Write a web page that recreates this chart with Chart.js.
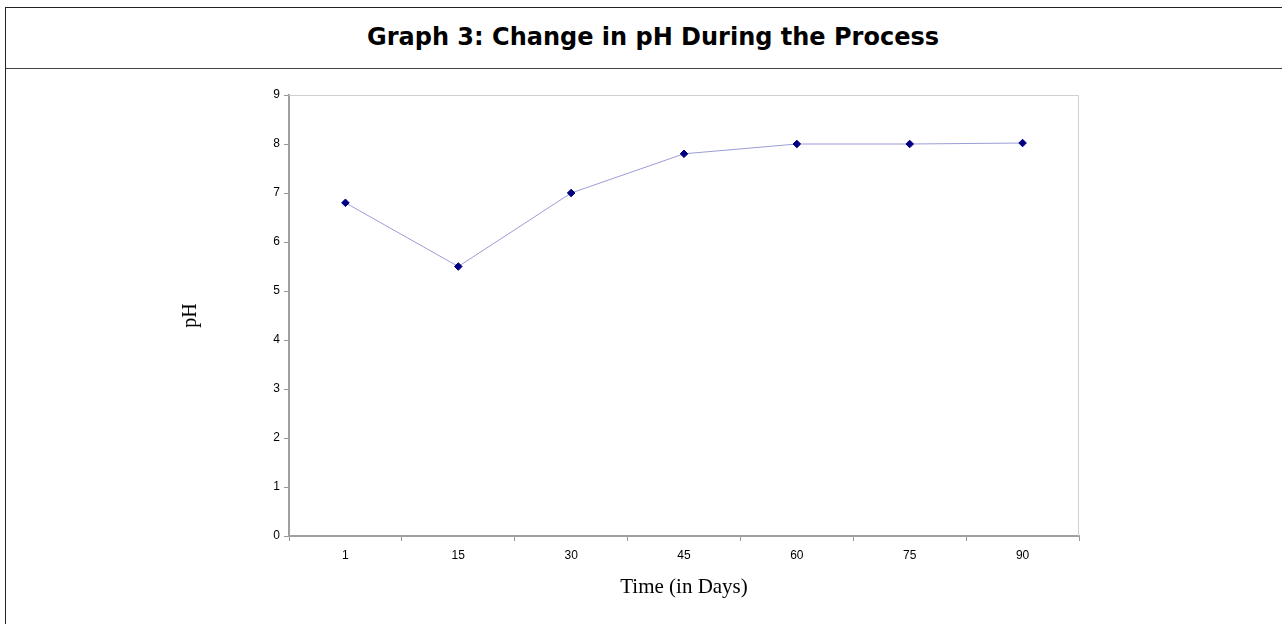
<!DOCTYPE html>
<html>
<head>
<meta charset="utf-8">
<script src="https://cdn.jsdelivr.net/npm/chart.js@4"></script>
<style>
	html, body { margin: 0; padding: 0; background: #fff; }
	#frame { position: absolute; left: 5px; top: 7px; width: 1290px; height: 640px; border: 1px solid #222; }
	#head { height: 60px; border-bottom: 1px solid #444; text-align: center; line-height: 58px; padding-left: 4px;
		font-family: 'DejaVu Sans', Verdana, sans-serif; font-weight: bold; font-size: 24px; color: #000; }
	#wrap { position: absolute; left: 0; top: 0; width: 1282px; height: 624px; }
</style>
</head>
<body>
<div id="frame"><div id="head">Graph 3: Change in pH During the Process</div></div>
<div id="wrap"><canvas id="chart"></canvas></div>
<script>
let days = ['1', '15', '30', '45', '60', '75', '90'];
let phValues = [6.8, 5.5, 7.0, 7.8, 8.0, 8.0, 8.02];
let yTicks = [0, 1, 2, 3, 4, 5, 6, 7, 8, 9];

// light frame on top and right of the plot
let plotBorder = {
	id: 'plotBorder',
	beforeDatasetsDraw: function(chart){
		let a = chart.chartArea;
		let ctx = chart.ctx;
		ctx.save();
		ctx.strokeStyle = '#d0d0d0';
		ctx.lineWidth = 1;
		ctx.beginPath();
		ctx.moveTo(a.left, a.top + 0.5);
		ctx.lineTo(a.right - 0.5, a.top + 0.5);
		ctx.lineTo(a.right - 0.5, a.bottom);
		ctx.stroke();
		ctx.restore();
	}
};

let ctx = document.getElementById('chart');

new Chart(ctx, {
	type: 'line',
	data: {
		labels: days,
		datasets: [{
			label: 'pH',
			data: phValues,
			borderColor: '#9c9cd8',
			borderWidth: 1,
			pointStyle: 'rectRot',
			pointRadius: 3.8,
			pointBackgroundColor: '#000080',
			pointBorderColor: '#000080',
			pointBorderWidth: 1,
			tension: 0
		}]
	},
	options: {
		responsive: true,
		maintainAspectRatio: false,
		animation: false,
		layout: { padding: { left: 0, right: 203, top: 95, bottom: 0 } },
		plugins: {
			legend: { display: false },
			tooltip: { enabled: false }
		},
		scales: {
			x: {
				offset: true,
				grid: { offset: true, drawOnChartArea: false, color: '#999', tickLength: 5, tickColor: '#999' },
				border: { color: '#a0a0a0', width: 2 },
				ticks: { color: '#000', font: { family: 'Liberation Sans', size: 12 }, padding: 7 },
				title: { display: true, text: 'Time (in Days)', color: '#000',
					font: { family: 'Liberation Serif', size: 21 }, padding: { top: 4, bottom: 24 } },
				afterFit: function(scale){ scale.height = 88; }
			},
			y: {
				min: 0,
				max: 9,
				afterBuildTicks: function(scale){ scale.ticks = yTicks.map(v => ({ value: v })); },
				grid: { drawOnChartArea: false, color: '#999', tickLength: 5, tickColor: '#999' },
				border: { color: '#a0a0a0', width: 2 },
				ticks: { color: '#000', font: { family: 'Liberation Sans', size: 12 }, padding: 4 },
				title: { display: true, text: 'pH', color: '#000',
					font: { family: 'Liberation Serif', size: 20 }, padding: { top: 179, bottom: 0 } },
				afterFit: function(scale){ scale.width = 289; }
			}
		}
	},
	plugins: [plotBorder]
});
</script>
</body>
</html>
